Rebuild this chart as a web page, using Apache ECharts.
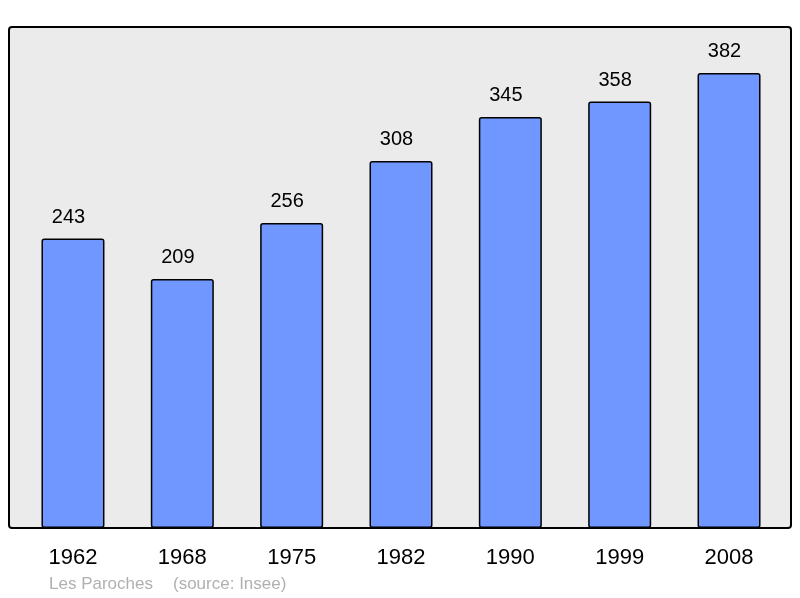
<!DOCTYPE html>
<html><head><meta charset="utf-8">
<script src="https://cdn.jsdelivr.net/npm/echarts@6/dist/echarts.min.js"></script>
<style>html,body{margin:0;padding:0;background:#fff}#c{width:800px;height:598px}</style>
</head><body><div id="c"></div>
<script>
const categories = ['1962','1968','1975','1982','1990','1999','2008'];
const population = [243,209,256,308,345,358,382];
const placeText = 'Les Paroches';
const sourceText = '(source: Insee)';

const FONT = '"Liberation Sans", Arial, sans-serif';
const chart = echarts.init(document.getElementById('c'), null, {renderer:'canvas'});
chart.setOption({
  animation:false,
  backgroundColor:'#ffffff',
  graphic:[
    {type:'rect', z:0, shape:{x:9, y:27, width:782, height:501, r:3},
     style:{fill:'#ebebeb', stroke:'#000', lineWidth:2}},
    {type:'text', left:49, top:576, z:10,
     style:{text:placeText, fill:'#b0b0b0', font:'17px ' + FONT}},
    {type:'text', left:173, top:576, z:10,
     style:{text:sourceText, fill:'#b0b0b0', font:'17px ' + FONT}}
  ],
  grid:{left:18.3, width:765.4, top:27, bottom:70, containLabel:false},
  xAxis:{type:'category', data:categories,
    axisLine:{show:false}, axisTick:{show:false},
    axisLabel:{color:'#000', fontSize:22, fontFamily:FONT, margin:19}},
  yAxis:{type:'value', min:0, max:420.6, show:false, splitLine:{show:false}},
  series:[{type:'bar', data:population, barWidth:63, z:2,
    itemStyle:{color:'#7096ff', borderColor:'#000', borderWidth:1.5, borderRadius:2},
    label:{show:true, position:'top', distance:11.5, offset:[-4.5,0], color:'#000', fontSize:20,
      fontFamily:FONT}}]
});
</script></body></html>
